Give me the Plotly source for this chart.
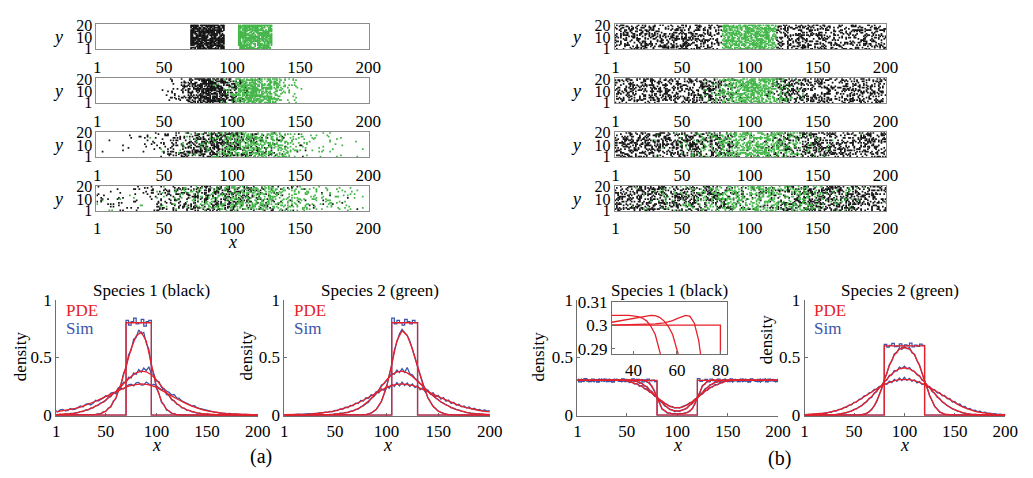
import numpy as np
import plotly.graph_objects as go

# ---------------------------------------------------------------- data
# PDE solutions are sampled every 5 sites, simulation averages every 2.5 sites
X = [1, 5, 10, 15, 20, 25, 30, 35, 40, 45, 50, 55, 60, 65, 70, 75, 80, 85, 90, 95, 100,
     105, 110, 115, 120, 125, 130, 135, 140, 145, 150, 155, 160, 165, 170, 175, 180, 185, 190, 195, 200]
X_SIM = [1, 2.5, 5, 7.5, 10, 12.5, 15, 17.5, 20, 22.5, 25, 27.5, 30, 32.5, 35, 37.5, 40, 42.5, 45, 47.5,
         50, 52.5, 55, 57.5, 60, 62.5, 65, 67.5, 70, 72.5, 75, 77.5, 80, 82.5, 85, 87.5, 90, 92.5, 95, 97.5,
         100, 102.5, 105, 107.5, 110, 112.5, 115, 117.5, 120, 122.5, 125, 127.5, 130, 132.5, 135, 137.5,
         140, 142.5, 145, 147.5, 150, 152.5, 155, 157.5, 160, 162.5, 165, 167.5, 170, 172.5, 175, 177.5,
         180, 182.5, 185, 187.5, 190, 192.5, 195, 197.5, 200]

# (a) species 1 (black)
PDE_A1_T0 = [0]*14 + [0.8, 0.8, 0.8, 0.8, 0.8] + [0]*22
PDE_A1_T1 = [0, 0, 0, 0, 0, 0, 0, 0.001, 0.005, 0.013, 0.034, 0.076, 0.15, 0.27, 0.42, 0.575, 0.685, 0.72, 0.64, 0.44,
             0.245, 0.12, 0.05, 0.018, 0.005, 0.001, 0, 0, 0, 0, 0, 0, 0, 0, 0, 0, 0, 0, 0, 0, 0]
PDE_A1_T2 = [0.005, 0.006, 0.008, 0.012, 0.018, 0.027, 0.04, 0.056, 0.076, 0.10, 0.13, 0.165, 0.205, 0.25, 0.295, 0.335,
             0.365, 0.38, 0.375, 0.35, 0.305, 0.25, 0.19, 0.14, 0.10, 0.068, 0.045, 0.03, 0.02, 0.013, 0.008, 0.005,
             0.003, 0.002, 0.001, 0.001, 0, 0, 0, 0, 0]
PDE_A1_T3 = [0.028, 0.033, 0.04, 0.048, 0.058, 0.07, 0.085, 0.10, 0.12, 0.14, 0.16, 0.183, 0.205, 0.225, 0.243, 0.257,
             0.266, 0.27, 0.267, 0.257, 0.24, 0.218, 0.193, 0.167, 0.142, 0.118, 0.097, 0.078, 0.062, 0.048, 0.037,
             0.028, 0.021, 0.016, 0.012, 0.009, 0.007, 0.005, 0.004, 0.003, 0.003]
SIM_A1_T0 = [0]*28 + [0.82, 0.78, 0.81, 0.84, 0.79, 0.80, 0.83, 0.77, 0.81, 0.82] + [0]*43
SIM_A1_T1 = [0]*14 + [0.002, 0, 0.006, 0.01, 0.011, 0.028, 0.031, 0.062, 0.07, 0.124, 0.142, 0.221, 0.262, 0.361,
                      0.408, 0.522, 0.561, 0.658, 0.672, 0.738, 0.705, 0.716, 0.622, 0.571, 0.424, 0.352, 0.232,
                      0.188, 0.109, 0.088, 0.042, 0.036, 0.014, 0.012, 0.003, 0.003, 0.001] + [0]*30
SIM_A1_T2 = [0.006, 0.003, 0.009, 0.005, 0.011, 0.007, 0.015, 0.012, 0.022, 0.019,
             0.031, 0.03, 0.045, 0.043, 0.061, 0.062, 0.08, 0.084, 0.107, 0.11,
             0.127, 0.154, 0.16, 0.192, 0.198, 0.238, 0.242, 0.285, 0.282, 0.328,
             0.322, 0.366, 0.352, 0.395, 0.372, 0.408, 0.385, 0.418, 0.36, 0.352,
             0.295, 0.29, 0.238, 0.228, 0.176, 0.172, 0.132, 0.127, 0.094, 0.088,
             0.063, 0.061, 0.041, 0.04, 0.027, 0.026, 0.017, 0.018, 0.01, 0.011,
             0.006, 0.007, 0.003, 0.005, 0.002, 0.003, 0.001, 0.002, 0, 0.001,
             0, 0, 0, 0, 0, 0, 0, 0, 0, 0, 0]
SIM_A1_T3 = [0.041, 0.028, 0.045, 0.049, 0.036, 0.038, 0.058, 0.047, 0.052, 0.068,
             0.08, 0.071, 0.094, 0.099, 0.088, 0.103, 0.128, 0.122, 0.134, 0.149,
             0.168, 0.165, 0.19, 0.196, 0.185, 0.212, 0.234, 0.225, 0.246, 0.262,
             0.268, 0.252, 0.279, 0.283, 0.26, 0.262, 0.286, 0.27, 0.255, 0.268,
             0.249, 0.238, 0.22, 0.226, 0.208, 0.197, 0.174, 0.178, 0.149, 0.145,
             0.123, 0.113, 0.102, 0.094, 0.081, 0.083, 0.064, 0.058, 0.052, 0.05,
             0.04, 0.034, 0.031, 0.026, 0.023, 0.017, 0.018, 0.014, 0.012, 0.014,
             0.009, 0.011, 0.007, 0.008, 0.005, 0.006, 0.004, 0.005, 0.003, 0.004, 0.002]

# (a) species 2 (green)
PDE_A2_T0 = [0]*21 + [0.8, 0.8, 0.8, 0.8, 0.8] + [0]*15
PDE_A2_T1 = [0]*15 + [0.001, 0.005, 0.018, 0.05, 0.12, 0.245, 0.44, 0.645, 0.73, 0.69, 0.575, 0.42, 0.27, 0.15,
                      0.076, 0.034, 0.013, 0.005, 0.001] + [0]*7
PDE_A2_T2 = [0, 0, 0, 0, 0, 0.001, 0.001, 0.002, 0.003, 0.005, 0.008, 0.013, 0.02, 0.03, 0.045, 0.068, 0.10, 0.14,
             0.19, 0.25, 0.305, 0.35, 0.375, 0.38, 0.365, 0.335, 0.295, 0.25, 0.205, 0.165, 0.13, 0.10, 0.076, 0.056,
             0.04, 0.027, 0.018, 0.012, 0.008, 0.006, 0.005]
PDE_A2_T3 = [0.003, 0.003, 0.004, 0.005, 0.007, 0.009, 0.012, 0.016, 0.021, 0.028, 0.037, 0.048, 0.062, 0.078, 0.097,
             0.118, 0.142, 0.167, 0.193, 0.218, 0.24, 0.257, 0.267, 0.27, 0.266, 0.257, 0.243, 0.225, 0.205, 0.183,
             0.16, 0.14, 0.12, 0.10, 0.085, 0.07, 0.058, 0.048, 0.04, 0.033, 0.028]
SIM_A2_T0 = [0]*42 + [0.84, 0.79, 0.82, 0.80, 0.78, 0.83, 0.81, 0.79, 0.82, 0.80] + [0]*29
SIM_A2_T1 = [0]*30 + [0.002, 0.002, 0.005, 0.01, 0.017, 0.032, 0.047, 0.082, 0.116, 0.181, 0.241, 0.345, 0.438,
                      0.563, 0.638, 0.705, 0.742, 0.716, 0.689, 0.642, 0.575, 0.508, 0.421, 0.352, 0.272, 0.212,
                      0.151, 0.117, 0.076, 0.058, 0.035, 0.025, 0.014, 0.008, 0.005, 0.002, 0.001] + [0]*14
SIM_A2_T2 = [0, 0, 0.001, 0, 0, 0.001, 0, 0.002, 0.001, 0, 0.002,
             0.001, 0.002, 0.001, 0.003, 0.002, 0.004, 0.003, 0.007, 0.005, 0.01,
             0.009, 0.016, 0.014, 0.023, 0.022, 0.034, 0.034, 0.05, 0.052, 0.072,
             0.079, 0.098, 0.112, 0.146, 0.158, 0.185, 0.212, 0.262, 0.272, 0.298,
             0.331, 0.362, 0.354, 0.391, 0.368, 0.402, 0.371, 0.412, 0.358, 0.349,
             0.318, 0.302, 0.274, 0.262, 0.231, 0.21, 0.187, 0.172, 0.148, 0.136,
             0.114, 0.104, 0.088, 0.081, 0.063, 0.06, 0.048, 0.045, 0.034, 0.031,
             0.022, 0.021, 0.014, 0.016, 0.01, 0.011, 0.007, 0.009, 0.005, 0.007]
SIM_A2_T3 = [0.002, 0.004, 0.005, 0.003, 0.006, 0.004, 0.008, 0.006, 0.009, 0.008, 0.012,
             0.01, 0.015, 0.013, 0.019, 0.018, 0.025, 0.023, 0.032, 0.029, 0.041,
             0.038, 0.053, 0.05, 0.068, 0.064, 0.085, 0.081, 0.104, 0.099, 0.126,
             0.121, 0.15, 0.144, 0.176, 0.168, 0.203, 0.192, 0.228, 0.215, 0.252,
             0.232, 0.268, 0.248, 0.281, 0.252, 0.286, 0.256, 0.279, 0.248, 0.27,
             0.238, 0.256, 0.22, 0.238, 0.2, 0.218, 0.18, 0.195, 0.158, 0.172,
             0.138, 0.152, 0.12, 0.13, 0.101, 0.112, 0.086, 0.095, 0.072, 0.08,
             0.062, 0.07, 0.052, 0.06, 0.044, 0.05, 0.038, 0.045, 0.034, 0.04]

# (b) species 1 (black)
PDE_B1_T0 = [0.3]*16 + [0]*8 + [0.3]*17
PDE_B1_T1 = [0.3]*11 + [0.301, 0.3028, 0.3039, 0.293, 0.25, 0.15, 0.055, 0.022, 0.013, 0.011, 0.013, 0.022, 0.055,
                        0.15, 0.25, 0.293, 0.3039, 0.3028, 0.301] + [0.3]*11
PDE_B1_T2 = [0.3008]*6 + [0.3012, 0.302, 0.303, 0.304, 0.304, 0.3007, 0.2905, 0.272, 0.242, 0.199, 0.15, 0.104, 0.066,
                          0.042, 0.034, 0.042, 0.066, 0.104, 0.15, 0.199, 0.242, 0.272, 0.2905, 0.3007, 0.304, 0.304,
                          0.303, 0.302, 0.3012] + [0.3008]*6
PDE_B1_T3 = [0.303, 0.3032, 0.3035, 0.3038, 0.304, 0.3041, 0.3041, 0.3042, 0.304, 0.3025, 0.296, 0.284, 0.268, 0.248,
             0.221, 0.188, 0.152, 0.117, 0.089, 0.07, 0.063, 0.07, 0.089, 0.117, 0.152, 0.188, 0.221, 0.248, 0.268,
             0.284, 0.296, 0.3025, 0.304, 0.3042, 0.3041, 0.3041, 0.304, 0.3038, 0.3035, 0.3032, 0.303]
SIM_B1_T0 = [0.308, 0.288, 0.303, 0.315, 0.294, 0.29, 0.311, 0.302, 0.286, 0.307,
             0.297, 0.312, 0.291, 0.305, 0.285, 0.309, 0.301, 0.293, 0.313, 0.289,
             0.304, 0.295, 0.314, 0.292, 0.31, 0.298, 0.287, 0.306, 0.312, 0.296,
             0.303, 0.29] + [0]*16 + [
             0.315, 0.293, 0.301, 0.309, 0.288, 0.312, 0.299, 0.294, 0.311, 0.286,
             0.308, 0.302, 0.291, 0.314, 0.297, 0.303, 0.289, 0.31, 0.295, 0.306,
             0.285, 0.313, 0.3, 0.292, 0.309, 0.298, 0.304, 0.287, 0.311, 0.296,
             0.307, 0.29, 0.302]
SIM_B1_T1 = [0.296, 0.311, 0.289, 0.304, 0.313, 0.292, 0.301, 0.287, 0.309, 0.298,
             0.314, 0.291, 0.305, 0.295, 0.288, 0.31, 0.302, 0.293, 0.312, 0.297,
             0.306, 0.29, 0.308, 0.299,
             0.311, 0.296, 0.309, 0.302, 0.285, 0.281, 0.243, 0.21, 0.142, 0.108, 0.05, 0.039, 0.018, 0.02,
             0.009, 0.015, 0.008, 0.014, 0.011, 0.019, 0.025, 0.031, 0.061, 0.094, 0.158, 0.192, 0.256, 0.268,
             0.298, 0.293, 0.31, 0.298, 0.307,
             0.289, 0.304, 0.312, 0.295, 0.301, 0.286, 0.309, 0.297, 0.313, 0.292,
             0.305, 0.29, 0.311, 0.3, 0.294, 0.308, 0.287, 0.303, 0.314, 0.296, 0.299, 0.31, 0.291, 0.306]
SIM_B1_T2 = [0.303, 0.29, 0.312, 0.297, 0.306, 0.288, 0.309, 0.301, 0.294, 0.315,
             0.296, 0.307, 0.289, 0.313, 0.3, 0.292, 0.311, 0.304, 0.287, 0.308,
             0.309, 0.298, 0.306, 0.29, 0.295, 0.276, 0.279, 0.25, 0.248, 0.214, 0.205, 0.168, 0.156, 0.121,
             0.108, 0.079, 0.07, 0.048, 0.046, 0.031, 0.037, 0.032, 0.045, 0.049, 0.062, 0.088, 0.099, 0.132,
             0.144, 0.18, 0.193, 0.229, 0.236, 0.264, 0.266, 0.288, 0.284, 0.302, 0.295, 0.31, 0.298,
             0.311, 0.293, 0.306, 0.288, 0.302, 0.314, 0.295, 0.3, 0.29, 0.309,
             0.297, 0.305, 0.286, 0.312, 0.299, 0.293, 0.308, 0.301, 0.289, 0.304]
SIM_B1_T3 = [0.311, 0.297, 0.305, 0.29, 0.314, 0.302, 0.293, 0.309, 0.299, 0.288,
             0.306, 0.312, 0.295, 0.303, 0.291, 0.308, 0.3, 0.296,
             0.309, 0.293, 0.302, 0.283, 0.29, 0.268, 0.275, 0.25, 0.256, 0.228, 0.229, 0.198, 0.195, 0.163,
             0.158, 0.128, 0.122, 0.098, 0.094, 0.074, 0.075, 0.06, 0.067, 0.061, 0.073, 0.08, 0.092, 0.108,
             0.112, 0.139, 0.146, 0.177, 0.181, 0.212, 0.214, 0.241, 0.242, 0.266, 0.262, 0.283, 0.279, 0.297,
             0.291, 0.306, 0.298,
             0.31, 0.294, 0.304, 0.289, 0.313, 0.299, 0.292, 0.307, 0.301, 0.287,
             0.311, 0.296, 0.305, 0.29, 0.308, 0.3, 0.294, 0.312]

# (b) species 2 (green)
PDE_B2_T0 = [0]*16 + [0.6]*8 + [0]*17
PDE_B2_T1 = [0]*11 + [0.0015, 0.0074, 0.028, 0.078, 0.172, 0.3, 0.428, 0.521, 0.571, 0.585, 0.571, 0.521, 0.428, 0.3,
                      0.172, 0.078, 0.028, 0.0074, 0.0015] + [0]*11
PDE_B2_T2 = [0, 0, 0.0001, 0.0004, 0.001, 0.0025, 0.005, 0.009, 0.016, 0.028, 0.045, 0.068, 0.099, 0.138, 0.184, 0.235,
             0.286, 0.335, 0.375, 0.401, 0.41, 0.401, 0.375, 0.335, 0.286, 0.235, 0.184, 0.138, 0.099, 0.068, 0.045,
             0.028, 0.016, 0.009, 0.005, 0.0025, 0.001, 0.0004, 0.0001, 0, 0]
PDE_B2_T3 = [0.003, 0.005, 0.007, 0.011, 0.016, 0.023, 0.033, 0.046, 0.062, 0.082, 0.105, 0.131, 0.16, 0.188, 0.215,
             0.241, 0.265, 0.284, 0.298, 0.307, 0.31, 0.307, 0.298, 0.284, 0.265, 0.241, 0.215, 0.188, 0.16, 0.131,
             0.105, 0.082, 0.062, 0.046, 0.033, 0.023, 0.016, 0.011, 0.007, 0.005, 0.003]
SIM_B2_T0 = [0]*32 + [0.612, 0.588, 0.604, 0.621, 0.593, 0.598, 0.617, 0.585, 0.609, 0.601, 0.624, 0.59, 0.606,
                      0.595, 0.615, 0.603] + [0]*33
SIM_B2_T1 = [0]*20 + [0.001, 0, 0.002, 0.003, 0.009, 0.013, 0.031, 0.046, 0.083, 0.114, 0.179, 0.228, 0.309, 0.357,
                      0.437, 0.469, 0.532, 0.541, 0.584, 0.569, 0.598, 0.574, 0.586, 0.539, 0.527, 0.47, 0.434,
                      0.361, 0.292, 0.241, 0.166, 0.125, 0.073, 0.052, 0.026, 0.018, 0.006, 0.005, 0.001, 0.002,
                      0] + [0]*20
SIM_B2_T2 = [0, 0, 0, 0.001, 0, 0, 0.001, 0, 0.001, 0.002,
             0.003, 0.002, 0.006, 0.005, 0.011, 0.009, 0.018, 0.02, 0.031, 0.035,
             0.049, 0.054, 0.072, 0.08, 0.104, 0.113, 0.145, 0.152, 0.191, 0.203,
             0.243, 0.254, 0.295, 0.302, 0.344, 0.348, 0.386, 0.382, 0.415, 0.402,
             0.424,
             0.399, 0.412, 0.385, 0.38, 0.348, 0.343, 0.302, 0.294, 0.254, 0.242,
             0.204, 0.19, 0.155, 0.144, 0.114, 0.102, 0.081, 0.071, 0.054, 0.048,
             0.035, 0.03, 0.019, 0.017, 0.009, 0.011, 0.004, 0.006, 0.002, 0.003,
             0.001, 0.001, 0, 0.001, 0, 0, 0.001, 0, 0, 0]
SIM_B2_T3 = [0.004, 0.002, 0.006, 0.004, 0.009, 0.006, 0.013, 0.01, 0.018, 0.016,
             0.026, 0.024, 0.037, 0.035, 0.05, 0.049, 0.066, 0.067, 0.087, 0.088,
             0.111, 0.113, 0.137, 0.141, 0.166, 0.17, 0.194, 0.198, 0.222, 0.224,
             0.249, 0.246, 0.274, 0.266, 0.294, 0.281, 0.31, 0.293, 0.321, 0.3,
             0.327,
             0.301, 0.318, 0.292, 0.306, 0.279, 0.291, 0.264, 0.272, 0.24, 0.248,
             0.218, 0.221, 0.193, 0.195, 0.166, 0.17, 0.14, 0.144, 0.114, 0.119,
             0.093, 0.096, 0.073, 0.075, 0.055, 0.058, 0.041, 0.044, 0.03, 0.034,
             0.021, 0.025, 0.015, 0.018, 0.01, 0.013, 0.006, 0.009, 0.004, 0.006]

# inset: PDE for species 1 near the left edge of the gap
INSET_T0_X = [30, 80, 80]
INSET_T0_Y = [0.3, 0.3, 0.27]
INSET_T1_X = [30, 40, 50, 54, 56, 58, 60, 62, 64, 66, 68, 70, 72]
INSET_T1_Y = [0.3, 0.3001, 0.3005, 0.3009, 0.3013, 0.3019, 0.3027, 0.3035, 0.3041, 0.3037, 0.3008, 0.2935, 0.28]
INSET_T2_X = [30, 34, 38, 42, 46, 48, 50, 52, 54, 56, 58, 60, 62]
INSET_T2_Y = [0.3012, 0.3018, 0.3025, 0.3032, 0.3039, 0.3041, 0.304, 0.3033, 0.3018, 0.2995, 0.296, 0.2905, 0.283]
INSET_T3_X = [30, 34, 38, 42, 44, 46, 48, 50, 52, 54]
INSET_T3_Y = [0.3041, 0.3042, 0.3041, 0.3036, 0.303, 0.3018, 0.2995, 0.296, 0.29, 0.282]

X_TICKS = [1, 50, 100, 150, 200]
Y_TICKS_LATTICE = [1, 10, 20]
DENSITY_TICKS = [0, 0.5, 1]
DENSITY_TICKTEXT = ['0', '0.5', '1']
INSET_XTICKS = [40, 60, 80]
INSET_YTICKS = [0.29, 0.30, 0.31]
INSET_YTICKTEXT = ['0.29', '0.3', '0.31']

# ---------------------------------------------------------------- style
W, H = 1033, 478
SERIF = 'Liberation Serif'
RED = '#e62129'
BLUE = '#3a54a8'
BLACK_CELL = '#141414'
GREEN_CELL = '#43b549'
AXIS = '#6e6e6e'
BOX = '#8c8c8c'
FONT = dict(family=SERIF, size=17, color='black')
FONT_SMALL = dict(family=SERIF, size=16, color='black')
CELL_PX = 1.7


def hx(px):
    return px / W


def vy(py):
    return 1 - py / H


def dither_mask(rows, cols, seed):
    """Fixed per-cell thresholds used to lay a column occupancy out over the rows."""
    r = np.arange(rows, dtype=np.uint64)[:, None]
    c = np.arange(cols, dtype=np.uint64)[None, :]
    m = np.uint64(0xFFFFFFFF)
    h = (c * np.uint64(374761393) + r * np.uint64(668265263) + np.uint64(seed) * np.uint64(2246822519)) & m
    h = ((h ^ (h >> np.uint64(13))) * np.uint64(1274126177)) & m
    h = h ^ (h >> np.uint64(16))
    return h.astype(np.float64) / 4294967296.0


X_SIM_ARR = np.array(X_SIM)
COLS = np.arange(1, 201)
ROWS = np.arange(1, 21)


def lattice(black, green, seed):
    idx = np.searchsorted(X_SIM_ARR, COLS, side='right') - 1
    d1 = np.asarray(black, dtype=float)[idx]
    d2 = np.asarray(green, dtype=float)[idx]
    u = dither_mask(len(ROWS), len(COLS), seed)
    return np.where(u < d1, 1, np.where(u < d1 + d2, 2, 0))


fig = go.Figure()
layout = {}
annotations = []


def note(text, px, py, size=17, color='black', xanchor='center', angle=0):
    annotations.append(dict(text=text, x=hx(px), y=vy(py), xref='paper', yref='paper', showarrow=False,
                            xanchor=xanchor, yanchor='middle', textangle=angle,
                            font=dict(family=SERIF, size=size, color=color)))


# ---------------------------------------------------------------- lattice snapshots
SNAPSHOTS = [
    ((94, 371), 55, [SIM_A1_T0, SIM_A1_T1, SIM_A1_T2, SIM_A1_T3], [SIM_A2_T0, SIM_A2_T1, SIM_A2_T2, SIM_A2_T3]),
    ((621, 897), 582, [SIM_B1_T0, SIM_B1_T1, SIM_B1_T2, SIM_B1_T3], [SIM_B2_T0, SIM_B2_T1, SIM_B2_T2, SIM_B2_T3]),
]
gc, gr = np.meshgrid(COLS, ROWS)

ax = 0
for side, ((x0, x1), ylab_x, blacks, greens) in enumerate(SNAPSHOTS):
    for t in range(4):
        ax += 1
        top = 16 + 56 * t
        bot = top + 26
        z = lattice(blacks[t], greens[t], seed=10 * side + t + 1)
        for code, colour in ((1, BLACK_CELL), (2, GREEN_CELL)):
            sel = z == code
            fig.add_trace(go.Scatter(x=gc[sel], y=gr[sel], mode='markers',
                                     marker=dict(symbol='square', size=CELL_PX, color=colour,
                                                 line=dict(width=0)),
                                     hoverinfo='skip', xaxis=f'x{ax}', yaxis=f'y{ax}'))
        layout[f'xaxis{ax}'] = dict(domain=[hx(x0), hx(x1)], anchor=f'y{ax}', range=[0.5, 200.5],
                                    tickvals=X_TICKS, showline=True, mirror=True, linecolor=BOX, linewidth=1,
                                    ticks='', showgrid=False, zeroline=False, tickfont=FONT,
                                    ticklabelstandoff=2)
        layout[f'yaxis{ax}'] = dict(domain=[vy(bot), vy(top)], anchor=f'x{ax}', range=[0.5, 20.5],
                                    tickvals=Y_TICKS_LATTICE, showline=True, mirror=True, linecolor=BOX,
                                    linewidth=1, ticks='', showgrid=False, zeroline=False, tickfont=FONT_SMALL)
        note('<i>y</i>', ylab_x, (top + bot) / 2, size=18)

note('<i>x</i>', 232, 242, size=18)

# ---------------------------------------------------------------- density profiles
DENSITY = [
    ('Species 1 (black)', (53, 258), 149.5, 17, 361, True,
     [PDE_A1_T0, PDE_A1_T1, PDE_A1_T2, PDE_A1_T3], [SIM_A1_T0, SIM_A1_T1, SIM_A1_T2, SIM_A1_T3]),
    ('Species 2 (green)', (285, 494), 382, 247, 360, True,
     [PDE_A2_T0, PDE_A2_T1, PDE_A2_T2, PDE_A2_T3], [SIM_A2_T0, SIM_A2_T1, SIM_A2_T2, SIM_A2_T3]),
    ('Species 1 (black)', (583, 787), 677, 543, 361, False,
     [PDE_B1_T0, PDE_B1_T1, PDE_B1_T2, PDE_B1_T3], [SIM_B1_T0, SIM_B1_T1, SIM_B1_T2, SIM_B1_T3]),
    ('Species 2 (green)', (814, 1018), 911, 775, 343, True,
     [PDE_B2_T0, PDE_B2_T1, PDE_B2_T2, PDE_B2_T3], [SIM_B2_T0, SIM_B2_T1, SIM_B2_T2, SIM_B2_T3]),
]
Y_LO = -0.006
ROW_TOP, ROW_ZERO = 302, 422
row_bot = ROW_ZERO - Y_LO * (ROW_ZERO - ROW_TOP)

for title, (x0, x1), title_x, dens_x, dens_y, key, pdes, sims in DENSITY:
    ax += 1
    for t, s in enumerate(sims):
        fig.add_trace(go.Scatter(x=X_SIM, y=s, mode='lines', line=dict(color=BLUE, width=1.25,
                                 shape='hv' if t == 0 else 'linear'),
                                 hoverinfo='skip', xaxis=f'x{ax}', yaxis=f'y{ax}'))
    for t, p in enumerate(pdes):
        fig.add_trace(go.Scatter(x=X, y=p, mode='lines', line=dict(color=RED, width=1.3,
                                 shape='hv' if t == 0 else 'linear'),
                                 hoverinfo='skip', xaxis=f'x{ax}', yaxis=f'y{ax}'))
    layout[f'xaxis{ax}'] = dict(domain=[hx(x0), hx(x1)], anchor=f'y{ax}', range=[1, 200], tickvals=X_TICKS,
                                showline=True, linecolor=AXIS, linewidth=1, ticks='inside', ticklen=3,
                                tickcolor=AXIS, showgrid=False, zeroline=False, layer='below traces',
                                tickfont=FONT, ticklabelstandoff=0)
    layout[f'yaxis{ax}'] = dict(domain=[vy(row_bot), vy(ROW_TOP)], anchor=f'x{ax}', range=[Y_LO, 1],
                                tickvals=DENSITY_TICKS, ticktext=DENSITY_TICKTEXT, showline=True,
                                linecolor=AXIS, linewidth=1, ticks='inside', ticklen=3, tickcolor=AXIS,
                                showgrid=False, zeroline=False, layer='below traces', tickfont=FONT)
    note(title, title_x, 292)
    note('density', dens_x, dens_y, angle=-90)
    note('<i>x</i>', (x0 + x1) / 2, 453, size=18)
    if key:
        note('PDE', x0 + 8, 313, color=RED, xanchor='left')
        note('Sim', x0 + 8, 332, color=BLUE, xanchor='left')

# ---------------------------------------------------------------- inset
ax += 1
for xs, ys in [(INSET_T0_X, INSET_T0_Y), (INSET_T1_X, INSET_T1_Y), (INSET_T2_X, INSET_T2_Y),
               (INSET_T3_X, INSET_T3_Y)]:
    fig.add_trace(go.Scatter(x=xs, y=ys, mode='lines', line=dict(color=RED, width=1.3),
                             hoverinfo='skip', xaxis=f'x{ax}', yaxis=f'y{ax}'))
layout[f'xaxis{ax}'] = dict(domain=[hx(618), hx(735)], anchor=f'y{ax}', range=[30, 83], tickvals=INSET_XTICKS,
                            showline=True, mirror=True, linecolor=AXIS, linewidth=1, ticks='inside', ticklen=3,
                            tickcolor=AXIS, showgrid=False, zeroline=False, tickfont=FONT, ticklabelstandoff=0)
layout[f'yaxis{ax}'] = dict(domain=[vy(359), vy(304)], anchor=f'x{ax}', range=[0.2875, 0.31],
                            tickvals=INSET_YTICKS, ticktext=INSET_YTICKTEXT, showline=True, mirror=True,
                            linecolor=AXIS, linewidth=1, ticks='inside', ticklen=3, tickcolor=AXIS,
                            showgrid=False, zeroline=False, tickfont=FONT)

note('(a)', 261, 465, size=20)
note('(b)', 788, 467, size=20)

fig.update_layout(width=W, height=H, margin=dict(l=0, r=0, t=0, b=0), paper_bgcolor='white',
                  plot_bgcolor='white', showlegend=False, font=FONT, annotations=annotations, **layout)
fig.write_html('out.html')
